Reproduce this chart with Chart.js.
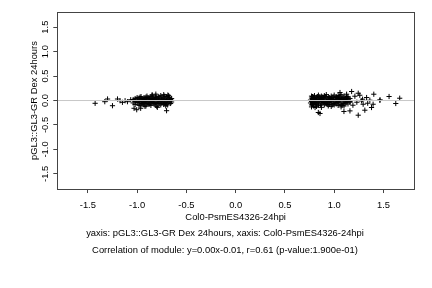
<!DOCTYPE html>
<html lang="en">
<head>
    <meta charset="UTF-8">
    <title>Col0-PsmES4326-24hpi vs pGL3::GL3-GR Dex 24hours</title>
    <script src="https://cdn.jsdelivr.net/npm/chart.js@4.4.1/dist/chart.umd.min.js"></script>
    <style>
        body { margin: 0; padding: 0; background: #fff; }
        #wrap { width: 432px; height: 288px; }
    </style>
</head>
<body>
    <div id="wrap"><canvas id="myChart" width="432" height="288"></canvas></div>

    <script>
        // axis setup
        const xTicks = [-1.5, -1.0, -0.5, 0.0, 0.5, 1.0, 1.5];
        const yTicks = [-1.5, -1.0, -0.5, 0.0, 0.5, 1.0, 1.5];
        const xRange = [-1.81, 1.81];
        const yRange = [-1.81, 1.81];

        const xTitle = 'Col0-PsmES4326-24hpi';
        const yTitle = 'pGL3::GL3-GR Dex 24hours';
        const caption1 = 'yaxis: pGL3::GL3-GR Dex 24hours, xaxis: Col0-PsmES4326-24hpi';
        const caption2 = 'Correlation of module: y=0.00x-0.01, r=0.61 (p-value:1.900e-01)';

        // genes on the left
        const leftPoints = [
            [-1.426, -0.057], [-1.328, -0.024], [-1.300, 0.031], [-1.250, -0.106], [-1.199, 0.031],
            [-1.173, -0.004], [-1.149, -0.037], [-1.122, -0.004], [-1.098, -0.024], [-1.065, 0.016],
            [-1.031, -0.159], [-1.004, -0.188], [-0.964, -0.159], [-0.845, 0.112], [-0.688, 0.112],
            [-0.701, -0.208], [-0.810, 0.130], [-0.795, -0.140], [-0.920, -0.120],
            [-1.04, 0.02], [-1.04, -0.05],
            [-1.02, -0.02], [-1.02, 0.04], [-1.02, -0.08],
            [-1.00, 0.03], [-1.00, -0.04], [-1.00, 0.06],
            [-0.99, 0.00], [-0.97, -0.02], [-0.97, 0.07],
            [-0.98, -0.07], [-0.98, 0.01], [-0.98, 0.05], [-0.98, -0.10],
            [-0.96, 0.04], [-0.96, -0.03], [-0.96, 0.08], [-0.96, -0.09],
            [-0.95, -0.06], [-0.95, 0.00],
            [-0.94, 0.01], [-0.94, -0.07],
            [-0.93, 0.06], [-0.93, -0.09], [-0.93, 0.02], [-0.93, -0.04],
            [-0.92, 0.04], [-0.92, -0.02],
            [-0.91, -0.01], [-0.91, 0.07], [-0.91, -0.11],
            [-0.90, 0.03], [-0.90, -0.06], [-0.90, 0.09], [-0.90, -0.01],
            [-0.89, -0.05], [-0.89, 0.06],
            [-0.88, -0.03], [-0.88, 0.05], [-0.88, -0.08], [-0.88, 0.01],
            [-0.87, 0.00], [-0.87, 0.04], [-0.87, -0.07],
            [-0.86, 0.08], [-0.86, -0.05], [-0.86, -0.10],
            [-0.85, 0.02], [-0.85, -0.02], [-0.85, 0.11],
            [-0.84, 0.07], [-0.84, -0.04], [-0.84, 0.01],
            [-0.83, -0.07], [-0.83, 0.04], [-0.83, 0.00],
            [-0.82, 0.02], [-0.82, -0.06],
            [-0.81, 0.06], [-0.81, -0.04], [-0.81, -0.09], [-0.81, 0.09],
            [-0.80, 0.01], [-0.80, -0.12], [-0.80, 0.05],
            [-0.79, 0.00], [-0.79, -0.03],
            [-0.78, -0.06], [-0.78, 0.03], [-0.78, 0.08], [-0.78, -0.01],
            [-0.77, 0.05], [-0.77, -0.06],
            [-0.76, -0.02], [-0.76, 0.10], [-0.76, -0.09],
            [-0.75, 0.05], [-0.75, -0.05], [-0.75, 0.01],
            [-0.74, 0.03], [-0.74, -0.03],
            [-0.73, -0.08], [-0.73, 0.07], [-0.73, -0.01], [-0.73, 0.12],
            [-0.72, 0.09], [-0.72, -0.06], [-0.72, 0.01],
            [-0.71, 0.03], [-0.71, -0.04], [-0.71, -0.11],
            [-0.70, 0.08], [-0.70, 0.00], [-0.70, -0.07],
            [-0.69, 0.02], [-0.69, -0.09],
            [-0.68, -0.03], [-0.68, 0.05], [-0.68, 0.10],
            [-0.67, 0.07], [-0.67, -0.02],
            [-0.66, 0.02], [-0.66, -0.06],
            [-0.65, 0.04], [-0.65, -0.03]
        ];

        // genes on the right
        const rightPoints = [
            [1.177, 0.184], [1.244, 0.149], [1.402, 0.129], [1.329, 0.061], [1.362, 0.006],
            [1.463, 0.006], [1.557, 0.082], [1.665, 0.047], [1.625, -0.061], [1.311, -0.198],
            [1.244, -0.300], [1.160, -0.212], [1.395, -0.076], [1.379, -0.143], [0.839, -0.245],
            [0.856, -0.265], [1.099, -0.224], [0.806, -0.143], [1.059, 0.163], [1.126, 0.129],
            [1.278, -0.008], [1.294, -0.076], [1.466, 0.012], [1.288, 0.027], [1.21, 0.088],
            [1.23, -0.035], [1.19, -0.096], [1.26, 0.108], [1.34, -0.055], [1.14, 0.047],
            [1.16, -0.035],
            [0.76, 0.01], [0.76, -0.05],
            [0.77, 0.05], [0.77, -0.02], [0.77, -0.09], [0.77, 0.09], [0.77, -0.13],
            [0.78, 0.08], [0.78, -0.08],
            [0.79, 0.02], [0.79, -0.06], [0.79, 0.07], [0.79, -0.11],
            [0.80, 0.10], [0.80, -0.03], [0.80, 0.04], [0.80, 0.00],
            [0.81, 0.02], [0.81, -0.05],
            [0.82, -0.08], [0.82, 0.06], [0.82, 0.00], [0.82, -0.12],
            [0.83, 0.08], [0.83, -0.03],
            [0.84, 0.03], [0.84, -0.05], [0.84, 0.11], [0.84, -0.10],
            [0.85, 0.07], [0.85, -0.01],
            [0.86, 0.02], [0.86, -0.09], [0.86, 0.05],
            [0.87, -0.07], [0.87, 0.04], [0.87, 0.09], [0.87, -0.14],
            [0.88, 0.07], [0.88, -0.02],
            [0.89, 0.01], [0.89, -0.04], [0.89, 0.06],
            [0.90, -0.09], [0.90, 0.10], [0.90, 0.03],
            [0.91, -0.05], [0.91, 0.08],
            [0.92, 0.05], [0.92, -0.06], [0.92, -0.02], [0.92, 0.12],
            [0.93, 0.00], [0.93, -0.08],
            [0.94, -0.11], [0.94, 0.02], [0.94, 0.08],
            [0.95, -0.04], [0.95, 0.06], [0.95, -0.08], [0.95, 0.01],
            [0.96, 0.03], [0.96, -0.02],
            [0.97, 0.00], [0.97, 0.09], [0.97, -0.12], [0.97, 0.04],
            [0.98, 0.06], [0.98, -0.09],
            [0.99, -0.06], [0.99, 0.07], [0.99, 0.02],
            [1.00, 0.11], [1.00, -0.03], [1.00, -0.09],
            [1.01, 0.03], [1.01, -0.05],
            [1.02, 0.05], [1.02, -0.07], [1.02, 0.01], [1.02, 0.08],
            [1.03, 0.06], [1.03, -0.04],
            [1.04, -0.02], [1.04, 0.10], [1.04, -0.10], [1.04, 0.03],
            [1.05, 0.04], [1.05, -0.05], [1.05, 0.07],
            [1.06, 0.00], [1.06, 0.09],
            [1.07, -0.08], [1.07, 0.02], [1.07, 0.12], [1.07, -0.13],
            [1.08, 0.04], [1.08, -0.10],
            [1.09, 0.06], [1.09, -0.03], [1.09, -0.06],
            [1.10, 0.09], [1.10, 0.00], [1.10, -0.11],
            [1.11, 0.02], [1.11, -0.07],
            [1.12, -0.04], [1.12, 0.05], [1.12, 0.03],
            [1.13, 0.08], [1.13, -0.02],
            [1.14, 0.07], [1.14, -0.07], [1.14, 0.01],
            [1.16, -0.02], [1.16, 0.04]
        ];

        const toXY = p => ({ x: p[0], y: p[1] });
        const font = { family: "'Liberation Sans', Arial, sans-serif", size: 9.4 };

        // box round the plot area
        const boxPlugin = {
            id: 'box',
            afterDraw(chart) {
                const a = chart.chartArea;
                const ctx = chart.ctx;
                ctx.save();
                ctx.strokeStyle = '#444';
                ctx.lineWidth = 1;
                ctx.strokeRect(Math.round(a.left) + 0.5, Math.round(a.top) + 0.5,
                    Math.round(a.right - a.left), Math.round(a.bottom - a.top));
                ctx.restore();
            }
        };

        const ctx = document.getElementById('myChart').getContext('2d');
        const myChart = new Chart(ctx, {
            type: 'scatter',
            data: {
                datasets: [
                    {
                        type: 'line',
                        data: [{ x: xRange[0], y: 0 }, { x: xRange[1], y: 0 }],
                        borderColor: '#c8c8c8',
                        borderWidth: 1,
                        pointRadius: 0,
                        order: 0
                    },
                    {
                        data: leftPoints.concat(rightPoints).map(toXY),
                        pointStyle: 'cross',
                        pointRadius: 2.6,
                        borderColor: '#000',
                        borderWidth: 1,
                        order: 1
                    }
                ]
            },
            plugins: [boxPlugin],
            options: {
                responsive: false,
                animation: false,
                // left/right padding keeps the captions centred a bit right of the canvas middle
                layout: { padding: { left: 36, top: 12, right: 18, bottom: 31.6 } },
                scales: {
                    x: {
                        type: 'linear',
                        min: xRange[0],
                        max: xRange[1],
                        afterBuildTicks: s => { s.ticks = xTicks.map(v => ({ value: v })); },
                        afterFit: s => { s.height = 38.6; },
                        grid: { display: true, drawOnChartArea: false, drawTicks: true, tickLength: 4, color: '#444' },
                        border: { display: false },
                        ticks: {
                            color: '#000',
                            font: font,
                            padding: 7,
                            maxRotation: 0,
                            callback: v => v.toFixed(1)
                        },
                        title: {
                            display: true,
                            text: xTitle,
                            color: '#000',
                            font: font,
                            padding: { top: 0, bottom: 4.2 }
                        }
                    },
                    y: {
                        type: 'linear',
                        min: yRange[0],
                        max: yRange[1],
                        afterBuildTicks: s => { s.ticks = yTicks.map(v => ({ value: v })); },
                        afterFit: s => { s.width = 21.3; },
                        grid: { display: true, drawOnChartArea: false, drawTicks: true, tickLength: 4, color: '#444' },
                        border: { display: false },
                        ticks: {
                            color: '#000',
                            font: font,
                            padding: 0,
                            minRotation: 90,
                            maxRotation: 90,
                            crossAlign: 'center',
                            callback: v => v.toFixed(1)
                        },
                        title: {
                            display: true,
                            text: yTitle,
                            color: '#000',
                            font: font,
                            padding: { top: -7.6, bottom: 0 }
                        }
                    }
                },
                plugins: {
                    legend: { display: false },
                    tooltip: { enabled: false },
                    title: {
                        display: true,
                        position: 'bottom',
                        text: caption2,
                        color: '#000',
                        font: Object.assign({ weight: 'normal' }, font),
                        padding: { top: 0, bottom: 0 }
                    },
                    subtitle: {
                        display: true,
                        position: 'bottom',
                        text: caption1,
                        color: '#000',
                        font: font,
                        padding: { top: 0, bottom: 6.2 }
                    }
                }
            }
        });
    </script>
</body>
</html>
